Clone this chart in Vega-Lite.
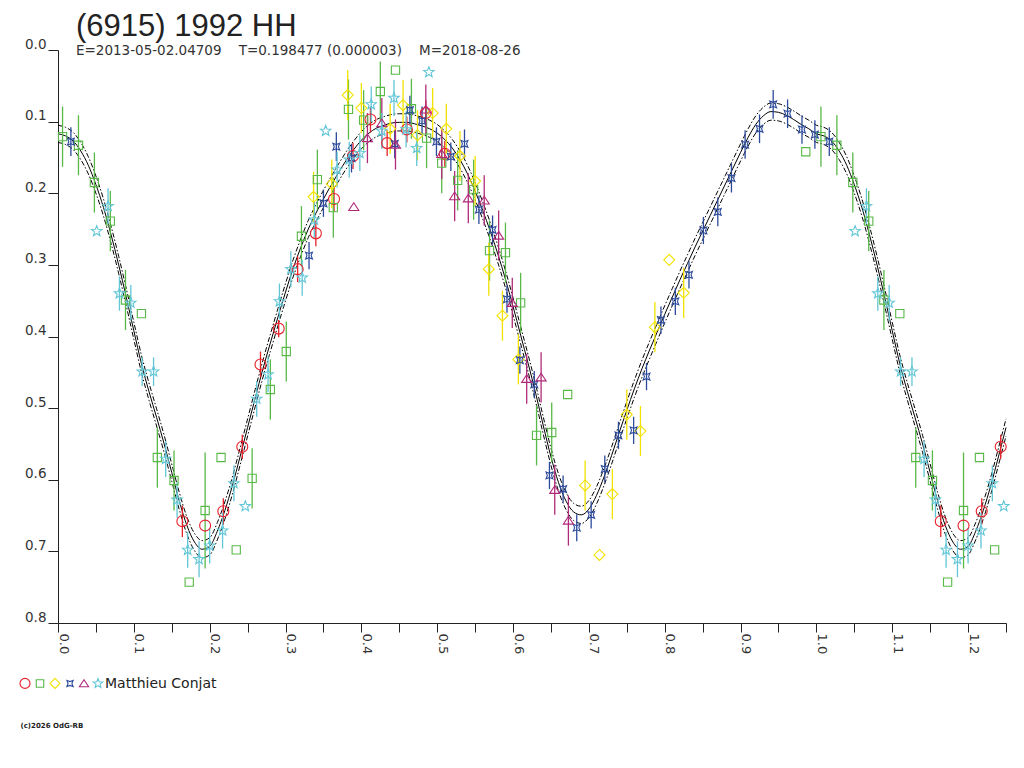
{
  "$schema": "https://vega.github.io/schema/vega-lite/v6.json",
  "width": 948,
  "height": 573,
  "autosize": "none",
  "padding": {"left": 58, "top": 50, "right": 18, "bottom": 145},
  "background": "white",
  "title": {
    "text": "(6915) 1992 HH",
    "subtitle": "E=2013-05-02.04709\u00a0\u00a0\u00a0\u00a0T=0.198477 (0.000003)\u00a0\u00a0\u00a0\u00a0M=2018-08-26",
    "anchor": "start",
    "frame": "group",
    "dx": 18,
    "offset": -21,
    "font": "Liberation Sans",
    "fontSize": 31,
    "fontWeight": "normal",
    "color": "#222",
    "subtitleFont": "DejaVu Sans",
    "subtitleFontSize": 13.5,
    "subtitleColor": "#333",
    "subtitlePadding": 1
  },
  "datasets": {
    "fit": [
      {"p":0.00,"m":0.117,"lo":0.105,"hi":0.129},{"p":0.01,"m":0.120,"lo":0.108,"hi":0.132},
      {"p":0.02,"m":0.127,"lo":0.115,"hi":0.139},{"p":0.03,"m":0.141,"lo":0.129,"hi":0.153},
      {"p":0.04,"m":0.161,"lo":0.149,"hi":0.173},{"p":0.05,"m":0.188,"lo":0.176,"hi":0.200},
      {"p":0.06,"m":0.220,"lo":0.208,"hi":0.232},{"p":0.07,"m":0.258,"lo":0.246,"hi":0.270},
      {"p":0.08,"m":0.300,"lo":0.288,"hi":0.312},{"p":0.09,"m":0.345,"lo":0.333,"hi":0.357},
      {"p":0.10,"m":0.392,"lo":0.380,"hi":0.404},{"p":0.11,"m":0.438,"lo":0.426,"hi":0.450},
      {"p":0.12,"m":0.477,"lo":0.465,"hi":0.489},{"p":0.13,"m":0.513,"lo":0.501,"hi":0.525},
      {"p":0.14,"m":0.550,"lo":0.538,"hi":0.562},{"p":0.15,"m":0.590,"lo":0.578,"hi":0.602},
      {"p":0.16,"m":0.630,"lo":0.618,"hi":0.642},{"p":0.17,"m":0.664,"lo":0.652,"hi":0.676},
      {"p":0.18,"m":0.687,"lo":0.675,"hi":0.699},{"p":0.19,"m":0.697,"lo":0.685,"hi":0.709},
      {"p":0.20,"m":0.693,"lo":0.681,"hi":0.705},{"p":0.21,"m":0.672,"lo":0.660,"hi":0.684},
      {"p":0.22,"m":0.643,"lo":0.631,"hi":0.655},{"p":0.23,"m":0.608,"lo":0.596,"hi":0.620},
      {"p":0.24,"m":0.568,"lo":0.556,"hi":0.580},{"p":0.25,"m":0.527,"lo":0.515,"hi":0.539},
      {"p":0.26,"m":0.486,"lo":0.474,"hi":0.498},{"p":0.27,"m":0.446,"lo":0.434,"hi":0.458},
      {"p":0.28,"m":0.409,"lo":0.397,"hi":0.421},{"p":0.29,"m":0.373,"lo":0.361,"hi":0.385},
      {"p":0.30,"m":0.338,"lo":0.326,"hi":0.350},{"p":0.31,"m":0.305,"lo":0.293,"hi":0.317},
      {"p":0.32,"m":0.276,"lo":0.264,"hi":0.288},{"p":0.33,"m":0.250,"lo":0.238,"hi":0.262},
      {"p":0.34,"m":0.228,"lo":0.216,"hi":0.240},{"p":0.35,"m":0.208,"lo":0.196,"hi":0.220},
      {"p":0.36,"m":0.189,"lo":0.177,"hi":0.201},{"p":0.37,"m":0.171,"lo":0.159,"hi":0.183},
      {"p":0.38,"m":0.154,"lo":0.142,"hi":0.166},{"p":0.39,"m":0.139,"lo":0.127,"hi":0.151},
      {"p":0.40,"m":0.126,"lo":0.114,"hi":0.138},{"p":0.41,"m":0.116,"lo":0.104,"hi":0.128},
      {"p":0.42,"m":0.109,"lo":0.097,"hi":0.121},{"p":0.43,"m":0.105,"lo":0.093,"hi":0.117},
      {"p":0.44,"m":0.102,"lo":0.090,"hi":0.114},{"p":0.45,"m":0.101,"lo":0.089,"hi":0.113},
      {"p":0.46,"m":0.101,"lo":0.089,"hi":0.113},{"p":0.47,"m":0.103,"lo":0.091,"hi":0.115},
      {"p":0.48,"m":0.106,"lo":0.094,"hi":0.118},{"p":0.49,"m":0.110,"lo":0.098,"hi":0.122},
      {"p":0.50,"m":0.116,"lo":0.104,"hi":0.128},{"p":0.51,"m":0.125,"lo":0.113,"hi":0.137},
      {"p":0.52,"m":0.137,"lo":0.125,"hi":0.149},{"p":0.53,"m":0.153,"lo":0.141,"hi":0.165},
      {"p":0.54,"m":0.173,"lo":0.161,"hi":0.185},{"p":0.55,"m":0.197,"lo":0.185,"hi":0.209},
      {"p":0.56,"m":0.224,"lo":0.212,"hi":0.236},{"p":0.57,"m":0.253,"lo":0.241,"hi":0.265},
      {"p":0.58,"m":0.285,"lo":0.273,"hi":0.297},{"p":0.59,"m":0.320,"lo":0.308,"hi":0.332},
      {"p":0.60,"m":0.358,"lo":0.346,"hi":0.370},{"p":0.61,"m":0.398,"lo":0.386,"hi":0.410},
      {"p":0.62,"m":0.438,"lo":0.426,"hi":0.450},{"p":0.63,"m":0.480,"lo":0.468,"hi":0.492},
      {"p":0.64,"m":0.525,"lo":0.513,"hi":0.537},{"p":0.65,"m":0.568,"lo":0.556,"hi":0.580},
      {"p":0.66,"m":0.604,"lo":0.592,"hi":0.616},{"p":0.67,"m":0.630,"lo":0.618,"hi":0.642},
      {"p":0.68,"m":0.645,"lo":0.633,"hi":0.657},{"p":0.69,"m":0.649,"lo":0.637,"hi":0.661},
      {"p":0.70,"m":0.641,"lo":0.629,"hi":0.653},{"p":0.71,"m":0.622,"lo":0.610,"hi":0.634},
      {"p":0.72,"m":0.596,"lo":0.584,"hi":0.608},{"p":0.73,"m":0.566,"lo":0.554,"hi":0.578},
      {"p":0.74,"m":0.534,"lo":0.522,"hi":0.546},{"p":0.75,"m":0.503,"lo":0.491,"hi":0.515},
      {"p":0.76,"m":0.473,"lo":0.461,"hi":0.485},{"p":0.77,"m":0.445,"lo":0.433,"hi":0.457},
      {"p":0.78,"m":0.419,"lo":0.407,"hi":0.431},{"p":0.79,"m":0.394,"lo":0.382,"hi":0.406},
      {"p":0.80,"m":0.369,"lo":0.357,"hi":0.381},{"p":0.81,"m":0.345,"lo":0.333,"hi":0.357},
      {"p":0.82,"m":0.321,"lo":0.309,"hi":0.333},{"p":0.83,"m":0.298,"lo":0.286,"hi":0.310},
      {"p":0.84,"m":0.275,"lo":0.263,"hi":0.287},{"p":0.85,"m":0.253,"lo":0.241,"hi":0.265},
      {"p":0.86,"m":0.231,"lo":0.219,"hi":0.243},{"p":0.87,"m":0.209,"lo":0.197,"hi":0.221},
      {"p":0.88,"m":0.187,"lo":0.175,"hi":0.199},{"p":0.89,"m":0.165,"lo":0.153,"hi":0.177},
      {"p":0.90,"m":0.143,"lo":0.131,"hi":0.155},{"p":0.91,"m":0.122,"lo":0.110,"hi":0.134},
      {"p":0.92,"m":0.104,"lo":0.092,"hi":0.116},{"p":0.93,"m":0.092,"lo":0.080,"hi":0.104},
      {"p":0.94,"m":0.086,"lo":0.074,"hi":0.098},{"p":0.95,"m":0.087,"lo":0.075,"hi":0.099},
      {"p":0.96,"m":0.091,"lo":0.079,"hi":0.103},{"p":0.97,"m":0.097,"lo":0.085,"hi":0.109},
      {"p":0.98,"m":0.104,"lo":0.092,"hi":0.116},{"p":0.99,"m":0.110,"lo":0.098,"hi":0.122},
      {"p":1.00,"m":0.117,"lo":0.105,"hi":0.129},{"p":1.01,"m":0.120,"lo":0.108,"hi":0.132},
      {"p":1.02,"m":0.127,"lo":0.115,"hi":0.139},{"p":1.03,"m":0.141,"lo":0.129,"hi":0.153},
      {"p":1.04,"m":0.161,"lo":0.149,"hi":0.173},{"p":1.05,"m":0.188,"lo":0.176,"hi":0.200},
      {"p":1.06,"m":0.220,"lo":0.208,"hi":0.232},{"p":1.07,"m":0.258,"lo":0.246,"hi":0.270},
      {"p":1.08,"m":0.300,"lo":0.288,"hi":0.312},{"p":1.09,"m":0.345,"lo":0.333,"hi":0.357},
      {"p":1.10,"m":0.392,"lo":0.380,"hi":0.404},{"p":1.11,"m":0.438,"lo":0.426,"hi":0.450},
      {"p":1.12,"m":0.477,"lo":0.465,"hi":0.489},{"p":1.13,"m":0.513,"lo":0.501,"hi":0.525},
      {"p":1.14,"m":0.550,"lo":0.538,"hi":0.562},{"p":1.15,"m":0.590,"lo":0.578,"hi":0.602},
      {"p":1.16,"m":0.630,"lo":0.618,"hi":0.642},{"p":1.17,"m":0.664,"lo":0.652,"hi":0.676},
      {"p":1.18,"m":0.687,"lo":0.675,"hi":0.699},{"p":1.19,"m":0.697,"lo":0.685,"hi":0.709},
      {"p":1.20,"m":0.693,"lo":0.681,"hi":0.705},{"p":1.21,"m":0.672,"lo":0.660,"hi":0.684},
      {"p":1.22,"m":0.643,"lo":0.631,"hi":0.655},{"p":1.23,"m":0.608,"lo":0.596,"hi":0.620},
      {"p":1.24,"m":0.568,"lo":0.556,"hi":0.580},{"p":1.25,"m":0.527,"lo":0.515,"hi":0.539}
    ],
    "pts": [
      {"s":"r","p":0.164,"m":0.658,"e":0.022},{"s":"r","p":0.194,"m":0.664,"e":0},
      {"s":"r","p":0.218,"m":0.644,"e":0.018},{"s":"r","p":0.243,"m":0.554,"e":0.017},
      {"s":"r","p":0.267,"m":0.439,"e":0.018},{"s":"r","p":0.291,"m":0.389,"e":0.012},
      {"s":"r","p":0.316,"m":0.306,"e":0.018},{"s":"r","p":0.340,"m":0.256,"e":0.018},
      {"s":"r","p":0.364,"m":0.208,"e":0.018},{"s":"r","p":0.389,"m":0.148,"e":0.018},
      {"s":"r","p":0.412,"m":0.097,"e":0.018},{"s":"r","p":0.485,"m":0.088,"e":0.018},
      {"s":"r","p":0.460,"m":0.111,"e":0.018},{"s":"r","p":0.434,"m":0.130,"e":0.018},
      {"s":"r","p":0.510,"m":0.145,"e":0.018},
      {"s":"r","p":1.164,"m":0.658,"e":0.022},{"s":"r","p":1.194,"m":0.664,"e":0},
      {"s":"r","p":1.218,"m":0.644,"e":0.018},{"s":"r","p":1.243,"m":0.554,"e":0.017},

      {"s":"g","p":0.006,"m":0.121,"e":0.042},{"s":"g","p":0.027,"m":0.133,"e":0.042},
      {"s":"g","p":0.048,"m":0.185,"e":0.042},{"s":"g","p":0.069,"m":0.239,"e":0.042},
      {"s":"g","p":0.089,"m":0.349,"e":0.042},{"s":"g","p":0.110,"m":0.368,"e":0},
      {"s":"g","p":0.131,"m":0.569,"e":0.042},{"s":"g","p":0.153,"m":0.601,"e":0.042},
      {"s":"g","p":0.173,"m":0.743,"e":0},{"s":"g","p":0.194,"m":0.643,"e":0.081},
      {"s":"g","p":0.215,"m":0.569,"e":0},{"s":"g","p":0.235,"m":0.698,"e":0},
      {"s":"g","p":0.256,"m":0.598,"e":0.042},{"s":"g","p":0.280,"m":0.474,"e":0.042},
      {"s":"g","p":0.301,"m":0.421,"e":0.042},{"s":"g","p":0.321,"m":0.260,"e":0.042},
      {"s":"g","p":0.342,"m":0.181,"e":0.042},{"s":"g","p":0.363,"m":0.220,"e":0.042},
      {"s":"g","p":0.383,"m":0.083,"e":0.042},{"s":"g","p":0.403,"m":0.098,"e":0.042},
      {"s":"g","p":0.425,"m":0.058,"e":0.042},{"s":"g","p":0.445,"m":0.028,"e":0},
      {"s":"g","p":0.466,"m":0.082,"e":0.042},{"s":"g","p":0.486,"m":0.123,"e":0.042},
      {"s":"g","p":0.506,"m":0.158,"e":0.042},{"s":"g","p":0.527,"m":0.182,"e":0.042},
      {"s":"g","p":0.548,"m":0.195,"e":0.042},{"s":"g","p":0.569,"m":0.280,"e":0.042},
      {"s":"g","p":0.590,"m":0.283,"e":0.042},{"s":"g","p":0.610,"m":0.353,"e":0.042},
      {"s":"g","p":0.631,"m":0.538,"e":0.042},{"s":"g","p":0.651,"m":0.534,"e":0.042},
      {"s":"g","p":0.672,"m":0.481,"e":0},{"s":"g","p":0.986,"m":0.142,"e":0},
      {"s":"g","p":1.006,"m":0.121,"e":0.042},{"s":"g","p":1.027,"m":0.133,"e":0.042},
      {"s":"g","p":1.048,"m":0.185,"e":0.042},{"s":"g","p":1.069,"m":0.239,"e":0.042},
      {"s":"g","p":1.089,"m":0.349,"e":0.042},{"s":"g","p":1.110,"m":0.368,"e":0},
      {"s":"g","p":1.131,"m":0.569,"e":0.042},{"s":"g","p":1.153,"m":0.601,"e":0.042},
      {"s":"g","p":1.173,"m":0.743,"e":0},{"s":"g","p":1.194,"m":0.643,"e":0.081},
      {"s":"g","p":1.215,"m":0.569,"e":0},{"s":"g","p":1.235,"m":0.698,"e":0},

      {"s":"y","p":0.337,"m":0.205,"e":0.035},{"s":"y","p":0.361,"m":0.187,"e":0.034},
      {"s":"y","p":0.382,"m":0.063,"e":0.035},{"s":"y","p":0.400,"m":0.081,"e":0.035},
      {"s":"y","p":0.438,"m":0.110,"e":0.035},{"s":"y","p":0.455,"m":0.077,"e":0.035},
      {"s":"y","p":0.474,"m":0.119,"e":0.035},{"s":"y","p":0.494,"m":0.088,"e":0.035},
      {"s":"y","p":0.512,"m":0.110,"e":0.035},{"s":"y","p":0.530,"m":0.148,"e":0.035},
      {"s":"y","p":0.550,"m":0.183,"e":0.035},{"s":"y","p":0.568,"m":0.306,"e":0.037},
      {"s":"y","p":0.586,"m":0.371,"e":0.035},{"s":"y","p":0.607,"m":0.432,"e":0.035},
      {"s":"y","p":0.695,"m":0.608,"e":0.035},{"s":"y","p":0.714,"m":0.705,"e":0},
      {"s":"y","p":0.731,"m":0.620,"e":0.035},{"s":"y","p":0.750,"m":0.509,"e":0.035},
      {"s":"y","p":0.768,"m":0.532,"e":0.035},{"s":"y","p":0.787,"m":0.387,"e":0.035},
      {"s":"y","p":0.806,"m":0.293,"e":0},{"s":"y","p":0.825,"m":0.339,"e":0.035},

      {"s":"b","p":0.017,"m":0.128,"e":0.020},{"s":"b","p":0.331,"m":0.287,"e":0.019},
      {"s":"b","p":0.350,"m":0.214,"e":0.019},{"s":"b","p":0.367,"m":0.135,"e":0.020},
      {"s":"b","p":0.387,"m":0.151,"e":0.020},{"s":"b","p":0.444,"m":0.131,"e":0.020},
      {"s":"b","p":0.464,"m":0.084,"e":0.020},{"s":"b","p":0.480,"m":0.099,"e":0.020},
      {"s":"b","p":0.499,"m":0.128,"e":0.020},{"s":"b","p":0.518,"m":0.149,"e":0.020},
      {"s":"b","p":0.536,"m":0.131,"e":0.020},{"s":"b","p":0.555,"m":0.223,"e":0.020},
      {"s":"b","p":0.573,"m":0.251,"e":0.020},{"s":"b","p":0.592,"m":0.348,"e":0.019},
      {"s":"b","p":0.609,"m":0.433,"e":0.019},{"s":"b","p":0.628,"m":0.467,"e":0.019},
      {"s":"b","p":0.648,"m":0.594,"e":0.019},{"s":"b","p":0.666,"m":0.613,"e":0.019},
      {"s":"b","p":0.684,"m":0.667,"e":0.019},{"s":"b","p":0.703,"m":0.649,"e":0.019},
      {"s":"b","p":0.721,"m":0.585,"e":0.019},{"s":"b","p":0.739,"m":0.538,"e":0.019},
      {"s":"b","p":0.759,"m":0.531,"e":0.019},{"s":"b","p":0.776,"m":0.456,"e":0.019},
      {"s":"b","p":0.795,"m":0.377,"e":0.019},{"s":"b","p":0.814,"m":0.351,"e":0.019},
      {"s":"b","p":0.832,"m":0.314,"e":0.019},{"s":"b","p":0.851,"m":0.252,"e":0.019},
      {"s":"b","p":0.870,"m":0.226,"e":0.020},{"s":"b","p":0.888,"m":0.179,"e":0.020},
      {"s":"b","p":0.906,"m":0.132,"e":0.020},{"s":"b","p":0.925,"m":0.110,"e":0.020},
      {"s":"b","p":0.943,"m":0.076,"e":0.020},{"s":"b","p":0.962,"m":0.089,"e":0.020},
      {"s":"b","p":0.981,"m":0.111,"e":0.020},{"s":"b","p":0.998,"m":0.118,"e":0.020},
      {"s":"b","p":1.017,"m":0.128,"e":0.020},

      {"s":"m","p":0.390,"m":0.219,"e":0},{"s":"m","p":0.408,"m":0.123,"e":0.035},
      {"s":"m","p":0.427,"m":0.102,"e":0.035},{"s":"m","p":0.445,"m":0.132,"e":0.035},
      {"s":"m","p":0.485,"m":0.083,"e":0.035},{"s":"m","p":0.506,"m":0.145,"e":0.035},
      {"s":"m","p":0.523,"m":0.204,"e":0.035},{"s":"m","p":0.541,"m":0.207,"e":0.035},
      {"s":"m","p":0.562,"m":0.210,"e":0.035},{"s":"m","p":0.581,"m":0.259,"e":0.035},
      {"s":"m","p":0.599,"m":0.353,"e":0.035},{"s":"m","p":0.618,"m":0.459,"e":0.035},
      {"s":"m","p":0.637,"m":0.457,"e":0.035},{"s":"m","p":0.655,"m":0.614,"e":0.035},
      {"s":"m","p":0.673,"m":0.657,"e":0.035},

      {"s":"c","p":0.051,"m":0.253,"e":0},{"s":"c","p":0.066,"m":0.218,"e":0.025},
      {"s":"c","p":0.081,"m":0.340,"e":0.024},{"s":"c","p":0.096,"m":0.353,"e":0.025},
      {"s":"c","p":0.111,"m":0.449,"e":0.020},{"s":"c","p":0.126,"m":0.449,"e":0.020},
      {"s":"c","p":0.142,"m":0.571,"e":0.025},{"s":"c","p":0.157,"m":0.628,"e":0.025},
      {"s":"c","p":0.171,"m":0.698,"e":0.025},{"s":"c","p":0.186,"m":0.711,"e":0.025},
      {"s":"c","p":0.200,"m":0.692,"e":0.025},{"s":"c","p":0.217,"m":0.671,"e":0.025},
      {"s":"c","p":0.232,"m":0.605,"e":0.025},{"s":"c","p":0.247,"m":0.637,"e":0},
      {"s":"c","p":0.262,"m":0.487,"e":0.025},{"s":"c","p":0.277,"m":0.453,"e":0.025},
      {"s":"c","p":0.292,"m":0.351,"e":0.025},{"s":"c","p":0.307,"m":0.306,"e":0.025},
      {"s":"c","p":0.322,"m":0.318,"e":0.025},{"s":"c","p":0.338,"m":0.237,"e":0.025},
      {"s":"c","p":0.353,"m":0.113,"e":0},{"s":"c","p":0.368,"m":0.167,"e":0.025},
      {"s":"c","p":0.384,"m":0.153,"e":0.025},{"s":"c","p":0.398,"m":0.144,"e":0.025},
      {"s":"c","p":0.413,"m":0.076,"e":0.025},{"s":"c","p":0.427,"m":0.113,"e":0.025},
      {"s":"c","p":0.443,"m":0.067,"e":0.025},{"s":"c","p":0.459,"m":0.111,"e":0.025},
      {"s":"c","p":0.473,"m":0.137,"e":0.025},{"s":"c","p":0.489,"m":0.031,"e":0},
      {"s":"c","p":1.051,"m":0.253,"e":0},{"s":"c","p":1.066,"m":0.218,"e":0.025},
      {"s":"c","p":1.081,"m":0.340,"e":0.024},{"s":"c","p":1.096,"m":0.353,"e":0.025},
      {"s":"c","p":1.111,"m":0.449,"e":0.020},{"s":"c","p":1.126,"m":0.449,"e":0.020},
      {"s":"c","p":1.142,"m":0.571,"e":0.025},{"s":"c","p":1.157,"m":0.628,"e":0.025},
      {"s":"c","p":1.171,"m":0.698,"e":0.025},{"s":"c","p":1.186,"m":0.711,"e":0.025},
      {"s":"c","p":1.200,"m":0.692,"e":0.025},{"s":"c","p":1.217,"m":0.671,"e":0.025},
      {"s":"c","p":1.232,"m":0.605,"e":0.025},{"s":"c","p":1.247,"m":0.637,"e":0}
    ]
  },
  "encoding": {
    "x": {
      "type": "quantitative",
      "scale": {"domain": [0, 1.25], "nice": false, "zero": false},
      "axis": {
        "values": [0,0.05,0.1,0.15,0.2,0.25,0.3,0.35,0.4,0.45,0.5,0.55,0.6,0.65,0.7,0.75,0.8,0.85,0.9,0.95,1,1.05,1.1,1.15,1.2,1.25],
        "labelExpr": "abs(round(datum.value * 10) - datum.value * 10) < 0.001 ? format(datum.value, '.1f') : ''",
        "labelAngle": 90,
        "labelAlign": "left",
        "labelBaseline": "alphabetic",
        "labelOffset": 1,
        "labelPadding": 1,
        "labelFont": "DejaVu Sans",
        "labelFontSize": 13,
        "labelColor": "#333",
        "tickSize": 9,
        "tickColor": "#222",
        "domainColor": "#222",
        "grid": false,
        "labelFlush": false,
        "labelOverlap": false,
        "title": "(c)2026 OdG-RB",
        "titleFont": "DejaVu Sans",
        "titleFontSize": 7,
        "titleFontWeight": "bold",
        "titleColor": "#222",
        "titleAlign": "left",
        "titleBaseline": "middle",
        "titleX": -38,
        "titleY": 102
      }
    },
    "y": {
      "type": "quantitative",
      "scale": {"domain": [0, 0.8], "reverse": true, "nice": false, "zero": false},
      "axis": {
        "values": [0,0.1,0.2,0.3,0.4,0.5,0.6,0.7,0.8],
        "format": ".1f",
        "labelFont": "DejaVu Sans",
        "labelFontSize": 13.5,
        "labelColor": "#333",
        "labelBaseline": "alphabetic",
        "labelOffset": -2,
        "labelPadding": 2,
        "tickSize": 10,
        "tickColor": "#222",
        "domainColor": "#222",
        "grid": false,
        "title": null
      }
    }
  },
  "layer": [
    {
      "data": {"name": "fit"},
      "mark": {"type": "line", "color": "black", "strokeWidth": 1, "interpolate": "monotone", "strokeDash": [5, 2, 1.5, 2]},
      "encoding": {"x": {"field": "p"}, "y": {"field": "lo"}}
    },
    {
      "data": {"name": "fit"},
      "mark": {"type": "line", "color": "black", "strokeWidth": 1, "interpolate": "monotone", "strokeDash": [5, 2, 1.5, 2]},
      "encoding": {"x": {"field": "p"}, "y": {"field": "hi"}}
    },
    {
      "data": {"name": "fit"},
      "mark": {"type": "line", "color": "black", "strokeWidth": 1, "interpolate": "monotone"},
      "encoding": {"x": {"field": "p"}, "y": {"field": "m"}}
    },
    {
      "data": {"name": "pts"},
      "transform": [{"filter": "datum.e > 0"}],
      "mark": {"type": "errorbar", "thickness": 1.3},
      "encoding": {
        "x": {"field": "p"},
        "y": {"field": "m"},
        "yError": {"field": "e"},
        "color": {"field": "s", "type": "nominal",
          "scale": {"domain": ["r","g","y","b","m","c"], "range": ["#e8212b","#58b947","#f2e200","#2c4a9c","#b02a7a","#62c6d6"]}}
      }
    },
    {
      "data": {"name": "pts"},
      "mark": {"type": "point", "filled": false, "size": 121, "strokeWidth": 1.1, "opacity": 1},
      "encoding": {
        "x": {"field": "p"},
        "y": {"field": "m"},
        "color": {
          "field": "s", "type": "nominal",
          "scale": {"domain": ["r","g","y","b","m","c"], "range": ["#e8212b","#58b947","#f2e200","#2c4a9c","#b02a7a","#62c6d6"]},
          "legend": {"labelExpr": "datum.value == 'c' ? '\u00a0\u00a0Matthieu Conjat' : ''"}
        },
        "shape": {
          "field": "s", "type": "nominal",
          "scale": {"domain": ["r","g","y","b","m","c"], "range": [
            "circle",
            "M-0.75,-0.75L0.75,-0.75L0.75,0.75L-0.75,0.75Z",
            "M0,-1L1,0L0,1L-1,0Z",
            "M-0.62,-0.62L0,-0.38L0.62,-0.62L0.38,0L0.62,0.62L0,0.38L-0.62,0.62L-0.38,0Z",
            "M0,-0.75L0.92,0.65L-0.92,0.65Z",
            "M0,-1L0.247,-0.34L0.951,-0.309L0.399,0.13L0.588,0.809L0,0.42L-0.588,0.809L-0.399,0.13L-0.951,-0.309L-0.247,-0.34Z"
          ]},
          "legend": {"labelExpr": "datum.value == 'c' ? '\u00a0\u00a0Matthieu Conjat' : ''"}
        }
      }
    }
  ],
  "config": {
    "view": {"stroke": null},
    "font": "DejaVu Sans",
    "legend": {
      "orient": "none", "legendX": -40, "legendY": 626, "direction": "horizontal", "title": null,
      "labelFont": "DejaVu Sans", "labelFontSize": 14, "labelColor": "#222",
      "labelOffset": 0, "columnPadding": 0, "symbolSize": 100, "symbolStrokeWidth": 1.1, "padding": 0,
      "symbolFillColor": "transparent"
    }
  }
}
